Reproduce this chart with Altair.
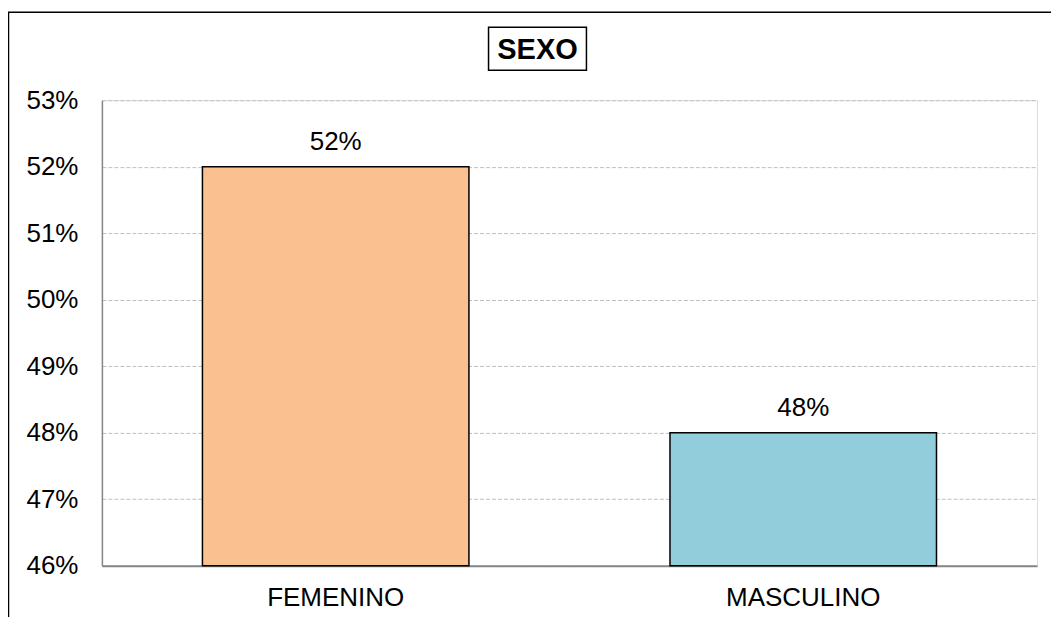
import altair as alt
import pandas as pd

categories = ["FEMENINO", "MASCULINO"]
values = [0.52, 0.48]
labels = ["52%", "48%"]
colors = ["#FAC090", "#92CDDC"]
title_text = "SEXO"
y_ticks = [0.46, 0.47, 0.48, 0.49, 0.50, 0.51, 0.52, 0.53]

df = pd.DataFrame({"cat": categories, "val": values, "lab": labels, "col": colors})

FONT = "Liberation Sans"

x_axis = alt.Axis(labelAngle=0, labelFontSize=26, labelFont=FONT, labelColor="#000000",
                  labelPadding=19, ticks=False, domainColor="#868686", domainWidth=2,
                  grid=False)
y_axis = alt.Axis(format=".0%", values=y_ticks,
                  labelFontSize=26, labelFont=FONT, labelColor="#000000",
                  labelPadding=24, ticks=False, domainColor="#868686", domainWidth=1.5,
                  grid=True, gridColor="#BFBFBF", gridDash=[4, 2], gridWidth=1)
x_scale = alt.Scale(paddingInner=0.43, paddingOuter=0.215)
y_scale = alt.Scale(domain=[0.46, 0.53], nice=False, zero=False)

base = alt.Chart(df)

bars = base.mark_bar(stroke="#000000", strokeWidth=1.5).encode(
    x=alt.X("cat:N", sort=categories, title=None, scale=x_scale, axis=x_axis),
    y=alt.Y("val:Q", title=None, scale=y_scale, axis=y_axis),
    y2=alt.datum(0.46),
    color=alt.Color("col:N", scale=None, legend=None),
)

text = base.mark_text(fontSize=26, font=FONT, color="#000000", dy=-25).encode(
    x=alt.X("cat:N", sort=categories),
    y=alt.Y("val:Q"),
    text="lab:N",
)

title_df = pd.DataFrame({"t": [title_text]})
title_box = alt.Chart(title_df).mark_rect(fill="white", stroke="#000000", strokeWidth=1.5).encode(
    x=alt.value(387), x2=alt.value(485), y=alt.value(-73), y2=alt.value(-30)
)
title_mark = alt.Chart(title_df).mark_text(fontSize=29, font=FONT, fontWeight="bold",
                                             color="#000000", baseline="middle").encode(
    x=alt.value(436), y=alt.value(-50), text="t:N"
)

border_left = alt.Chart(title_df).mark_rule(color="#000000", strokeWidth=1.5).encode(
    x=alt.value(-93.5), y=alt.value(-88), y2=alt.value(530)
)
border_top = alt.Chart(title_df).mark_rule(color="#000000", strokeWidth=1.5).encode(
    x=alt.value(-94), x2=alt.value(960), y=alt.value(-88)
)

chart = alt.layer(bars, text, title_box, title_mark, border_left, border_top).properties(
    width=936, height=466,
    autosize=alt.AutoSizeParams(type="none"),
    padding={"left": 94, "top": 92, "right": 14, "bottom": 51},
).configure_view(stroke=None).configure(background="white")

chart.save("out.html", embed_options={"renderer": "svg", "actions": False})
